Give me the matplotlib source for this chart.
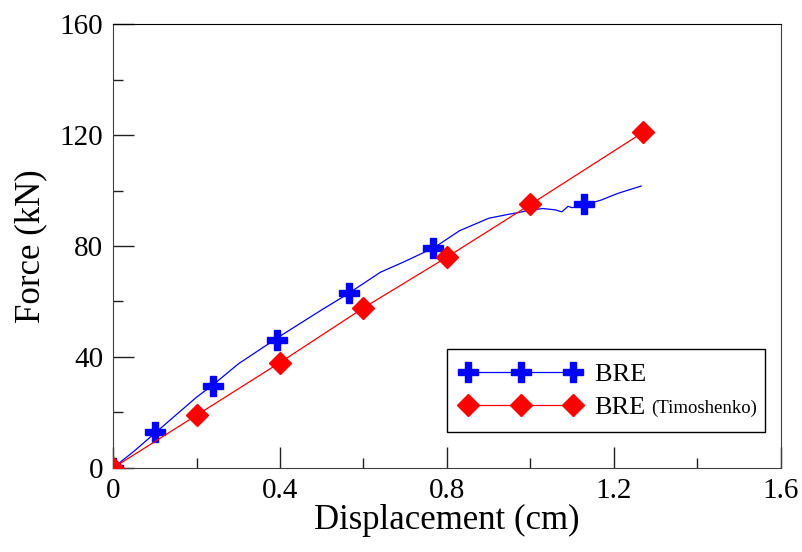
import matplotlib
matplotlib.use("Agg")
import matplotlib.pyplot as plt
from matplotlib.lines import Line2D
from matplotlib.ticker import MultipleLocator

plt.rcParams['font.family'] = ['Liberation Serif', 'DejaVu Serif']

# BRE measured curve (cm, kN)
bre_x = [0, 0.05, 0.1, 0.2, 0.24, 0.3, 0.4, 0.5, 0.56, 0.6, 0.64, 0.7, 0.77, 0.83,
         0.9, 0.95, 0.97, 1.0, 1.03, 1.06, 1.075, 1.09, 1.1, 1.13, 1.17, 1.21, 1.265]
bre_y = [0, 6, 12.5, 25.5, 30, 37.5, 47.5, 57, 62.5, 66.5, 70.5, 74.5, 79.5, 85.5,
         90, 91.5, 92, 93, 93.5, 93, 92.3, 94.3, 93.8, 94.8, 96.6, 99, 101.6]
# BRE marker points
bre_mx = [0, 0.1, 0.24, 0.393, 0.565, 0.766, 1.128]
bre_my = [0, 13, 29.5, 46, 63, 79.3, 95]
# BRE (Timoshenko)
tim_x = [0, 0.2, 0.4, 0.6, 0.8, 1.0, 1.27]
tim_y = [0, 19, 38, 57.7, 76, 95, 121]

fig = plt.figure(figsize=(8.02, 5.52), dpi=100)
ax = fig.add_axes([0.1409, 0.1522, 0.8329, 0.8043])

ax.plot(bre_x, bre_y, color='blue', lw=0.9, zorder=3)
ax.plot(bre_mx, bre_my, ls='none', marker='P', ms=15, color='blue', zorder=4)
ax.plot(tim_x, tim_y, color='red', lw=0.9, marker='D', ms=11, zorder=5)

ax.set_xlim(0, 1.6)
ax.set_ylim(0, 160)
ax.xaxis.set_major_locator(MultipleLocator(0.4))
ax.xaxis.set_minor_locator(MultipleLocator(0.2))
ax.yaxis.set_major_locator(MultipleLocator(40))
ax.yaxis.set_minor_locator(MultipleLocator(20))
ax.xaxis.set_major_formatter(plt.FuncFormatter(lambda v, p: '0' if v == 0 else f'{v:g}'))

ax.tick_params(which='both', direction='in', top=False, right=False,
               labelsize=21, color='#202020')
ax.tick_params(which='major', length=15, width=1, pad=7)
ax.tick_params(which='minor', length=7, width=1)
for s in ['left', 'bottom', 'right']:
    ax.spines[s].set_color('#404040')
ax.spines['top'].set_color('black')

ax.set_xlabel('Displacement (cm)', fontsize=25, labelpad=0)
ax.set_ylabel('Force (kN)', fontsize=25, labelpad=9)

handles = [
    Line2D([], [], color='blue', lw=0.9, marker='P', ms=15),
    Line2D([], [], color='red', lw=0.9, marker='D', ms=11),
]
leg = ax.legend(handles, ['BRE', 'BRE'], loc='lower right', numpoints=3,
                bbox_to_anchor=(0.976, 0.081), fontsize=19, frameon=True,
                fancybox=False, edgecolor='black', framealpha=1,
                handlelength=4.6, handletextpad=0.5, borderpad=0.5,
                borderaxespad=0, labelspacing=0.35)
leg.get_frame().set_linewidth(1.0)

# small "(Timoshenko)" after the second label; widen the legend by padding
# the first label so the box fits it
t1, t2 = leg.get_texts()
ann = ax.annotate('(Timoshenko)', xy=(1, 0), xycoords=t2,
                  xytext=(4, 1), textcoords='offset points', va='bottom',
                  ha='left', fontsize=13.5, zorder=10)
fig.canvas.draw()
r = fig.canvas.get_renderer()
w_ann = ann.get_window_extent(r).width - 1
w0 = t1.get_window_extent(r).width
t1.set_text('BRE' + '\u00a0' * 10)
w_sp = (t1.get_window_extent(r).width - w0) / 10
t1.set_text('BRE' + '\u00a0' * int(round(w_ann / w_sp)))

fig.savefig('out.png', dpi=100)
